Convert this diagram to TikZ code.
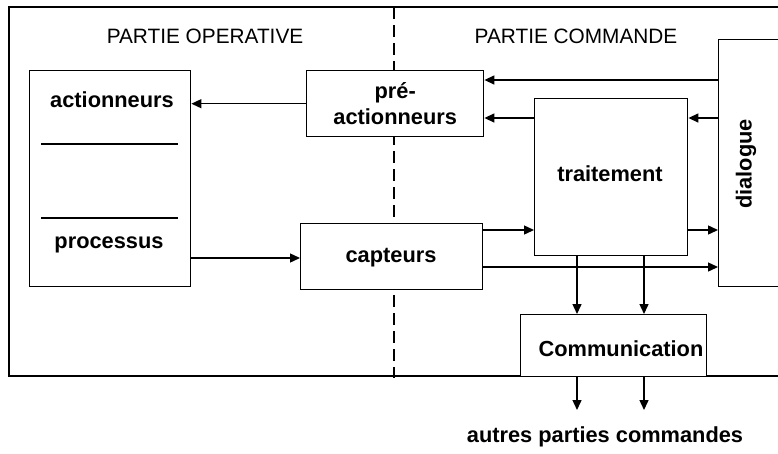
\documentclass[tikz,border=0pt]{standalone}
\usepackage{fontspec}
\setmainfont{Liberation Sans}
\usetikzlibrary{arrows.meta}
\begin{document}
\begin{tikzpicture}[x=1pt,y=-1pt,
  line width=1.4pt,
  block/.style={draw, rectangle, anchor=north west, inner sep=0pt},
  lbl/.style={font=\fontsize{21.8}{26}\selectfont\bfseries, inner sep=0pt, align=center},
  ttl/.style={font=\fontsize{20.8}{24}\selectfont, inner sep=0pt},
  arr/.style={-{Triangle[length=10pt,width=9pt]}},
  sep/.style={dash pattern=on 12pt off 6pt}]
\useasboundingbox (0,0) rectangle (778,453);
\clip (0,0) rectangle (778,453);

% frame of the system (open towards the right)
\draw (790,7) -- (9,7) -- (9,376) -- (790,376);
\draw[sep] (394,7) -- (394,378);

% section titles
\node[ttl] (tpo) at (205,36) {PARTIE OPERATIVE};
\node[ttl] (tpc) at (576,36) {PARTIE COMMANDE};

% operative part
\node[block, minimum width=161pt, minimum height=216pt, fill=white] (act) at (29,70) {};
\draw ([xshift=12pt]act.west |- 0,144) -- ([xshift=-13pt]act.east |- 0,144);
\draw ([xshift=12pt]act.west |- 0,218) -- ([xshift=-13pt]act.east |- 0,218);
\node[lbl] (tact) at (112,100) {actionneurs};
\node[lbl] (tproc) at (109,245) {processus};

% interface blocks
\node[block, minimum width=177pt, minimum height=66pt, fill=white] (pre) at (306,70) {};
\node[lbl] (tpre) at (pre.center) {pré-\\actionneurs};
\node[block, minimum width=182pt, minimum height=66pt, fill=white] (cap) at (300,223) {};
\node[lbl] (tcap) at (391,258) {capteurs};

% command part
\node[block, minimum width=153pt, minimum height=157pt] (trt) at (534,98) {};
\node[lbl] (ttrt) at (610,174) {traitement};
\node[block, minimum width=90pt, minimum height=247pt] (dia) at (718,39) {};
\node[lbl, rotate=90] (tdia) at (746,164) {dialogue};
\node[block, minimum width=186pt, minimum height=62pt, fill=white] (com) at (520,314) {};
\node[lbl] (tcom) at (621,349) {Communication};
\node[lbl] (tout) at (605,437) {autres parties commandes};

% free ends below the communication block
\coordinate (o1) at (577,410);
\coordinate (o2) at (644,410);

% connectors
\draw[arr] (pre.west) -- (act.east |- pre.west);
\draw[arr] (dia.west |- 0,80) -- (pre.east |- 0,80);
\draw[arr] (trt.west |- 0,118) -- (pre.east |- 0,118);
\draw[arr] (dia.west |- 0,118) -- (trt.east |- 0,118);
\draw[arr] (act.east |- 0,258) -- (cap.west |- 0,258);
\draw[arr] (cap.east |- 0,230) -- (trt.west |- 0,230);
\draw[arr] (trt.east |- 0,230) -- (dia.west |- 0,230);
\draw[arr] (cap.east |- 0,267) -- (dia.west |- 0,267);
\draw[arr] (trt.south -| o1) -- (com.north -| o1);
\draw[arr] (trt.south -| o2) -- (com.north -| o2);
\draw[arr] (com.south -| o1) -- (o1);
\draw[arr] (com.south -| o2) -- (o2);
\end{tikzpicture}
\end{document}
